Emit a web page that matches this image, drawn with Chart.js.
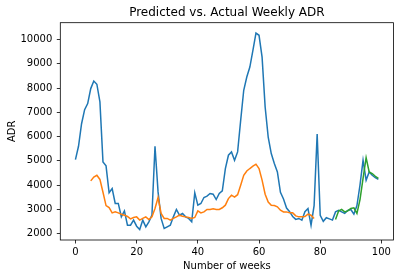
<!DOCTYPE html>
<html>
<head>
<meta charset="utf-8">
<script src="https://cdn.jsdelivr.net/npm/chart.js@4"></script>
<style>
  html, body { margin: 0; padding: 0; background: #ffffff; }
  #wrap { width: 401px; height: 278px; }
</style>
</head>
<body>
<div id="wrap"><canvas id="c" width="401" height="278"></canvas></div>
<script>
const titleText = "Predicted vs. Actual Weekly ADR";
const xLabel = "Number of weeks";
const yLabel = "ADR";
const xTicks = [0, 20, 40, 60, 80, 100];
const yTicks = [2000, 3000, 4000, 5000, 6000, 7000, 8000, 9000, 10000];

const actualStart = 0;
const actualADR = [5050, 5600, 6530, 7110, 7360, 7980, 8290, 8160, 7430, 4950,
  4790, 3680, 3850, 3240, 3240, 2690, 2930, 2340, 2340, 2550,
  2300, 2165, 2550, 2275, 2480, 2755, 5600, 3715, 2620, 2205,
  2275, 2340, 2685, 2990, 2755, 2825, 2685, 2620, 2480, 3675,
  3167, 3237, 3485, 3540, 3650, 3620, 3400, 3650, 3757, 4680,
  5230, 5365, 5020, 5365, 6670, 7910, 8460, 8870, 9560, 10270,
  10180, 9280, 7220, 5980, 5300, 4890, 4540, 3700, 3420, 3050,
  2900, 2700, 2580, 2620, 2550, 2900, 3030, 2340, 3150, 6100,
  2750, 2500, 2650, 2600, 2550, 2890, 2950, 2890, 2830, 2950,
  2990, 2800, 3150, 4000, 5020, 4200, 4540, 4400, 4300, 4230];

const predictedStart = 5;
const predictedADR = [4170, 4330, 4400, 4230, 3700,
  3150, 3070, 2850, 2890, 2850, 2795, 2755, 2700, 2600, 2660,
  2685, 2550, 2620, 2685, 2577, 2685, 3030, 3485, 2825, 2620,
  2620, 2550, 2620, 2685, 2755, 2710, 2685, 2660, 2620, 2660,
  2930, 2850, 2890, 2990, 2990, 3015, 2990, 2990, 3060, 3167,
  3440, 3580, 3500, 3600, 3990, 4400, 4580, 4680, 4775, 4860,
  4680, 4200, 3620, 3300, 3167, 3150, 3100, 2960, 2890, 2890,
  2850, 2850, 2727, 2685, 2685, 2700, 2795, 2755, 2620];

const forecastStart = 85;
const forecastADR = [2577, 2930, 2990, 2890, 2930,
  3030, 3060, 2825, 3400, 4270, 5130, 4540, 4475, 4360, 4270];

function toPoints(start, values) {
  return values.map((v, i) => ({ x: start + i, y: v }));
}

const FONT = "'DejaVu Sans', sans-serif";

const framePlugin = {
  id: 'frame',
  afterDatasetsDraw(chart) {
    const { ctx, chartArea: a } = chart;
    ctx.save();
    ctx.strokeStyle = '#000';
    ctx.lineWidth = 0.8;
    ctx.strokeRect(a.left, a.top, a.right - a.left, a.bottom - a.top);
    ctx.restore();
  }
};

new Chart(document.getElementById('c'), {
  type: 'line',
  data: {
    datasets: [
      { data: toPoints(actualStart, actualADR), borderColor: '#1f77b4', borderWidth: 1.5, pointRadius: 0, tension: 0, order: 3 },
      { data: toPoints(predictedStart, predictedADR), borderColor: '#ff7f0e', borderWidth: 1.5, pointRadius: 0, tension: 0, order: 2 },
      { data: toPoints(forecastStart, forecastADR), borderColor: '#2ca02c', borderWidth: 1.5, pointRadius: 0, tension: 0, order: 1 }
    ]
  },
  options: {
    responsive: false,
    animation: false,
    devicePixelRatio: 1,
    layout: { padding: { left: 0, right: 7.5, top: 0, bottom: 0 } },
    plugins: {
      legend: { display: false },
      tooltip: { enabled: false },
      title: {
        display: true,
        text: titleText,
        fullSize: false,
        color: '#000',
        font: { family: FONT, size: 12, weight: 'normal', lineHeight: 1.2 },
        padding: { top: 5.3, bottom: 3 }
      }
    },
    scales: {
      x: {
        type: 'linear',
        min: -4.95,
        max: 103.95,
        afterFit: (s) => { s.height = 38; },
        afterBuildTicks: (s) => { s.ticks = xTicks.map(v => ({ value: v })); },
        ticks: { color: '#000', font: { family: FONT, size: 10 }, padding: 3, maxRotation: 0, autoSkip: false },
        grid: { display: true, drawOnChartArea: false, drawTicks: true, tickLength: 3.5, color: '#000', lineWidth: 0.8 },
        border: { display: false },
        title: { display: true, text: xLabel, color: '#000', font: { family: FONT, size: 10, lineHeight: 1.2 }, padding: { top: 0, bottom: 5.5 } }
      },
      y: {
        type: 'linear',
        min: 1730,
        max: 10700,
        afterFit: (s) => { s.width = 60.3; },
        afterBuildTicks: (s) => { s.ticks = yTicks.map(v => ({ value: v })); },
        ticks: { color: '#000', font: { family: FONT, size: 10 }, padding: 4.5, autoSkip: false, callback: (v) => String(v) },
        grid: { display: true, drawOnChartArea: false, drawTicks: true, tickLength: 3.5, color: '#000', lineWidth: 0.8 },
        border: { display: false },
        title: { display: true, text: yLabel, color: '#000', font: { family: FONT, size: 10, lineHeight: 1.2 }, padding: { top: 6.3, bottom: 0 } }
      }
    }
  },
  plugins: [framePlugin]
});
</script>
</body>
</html>
